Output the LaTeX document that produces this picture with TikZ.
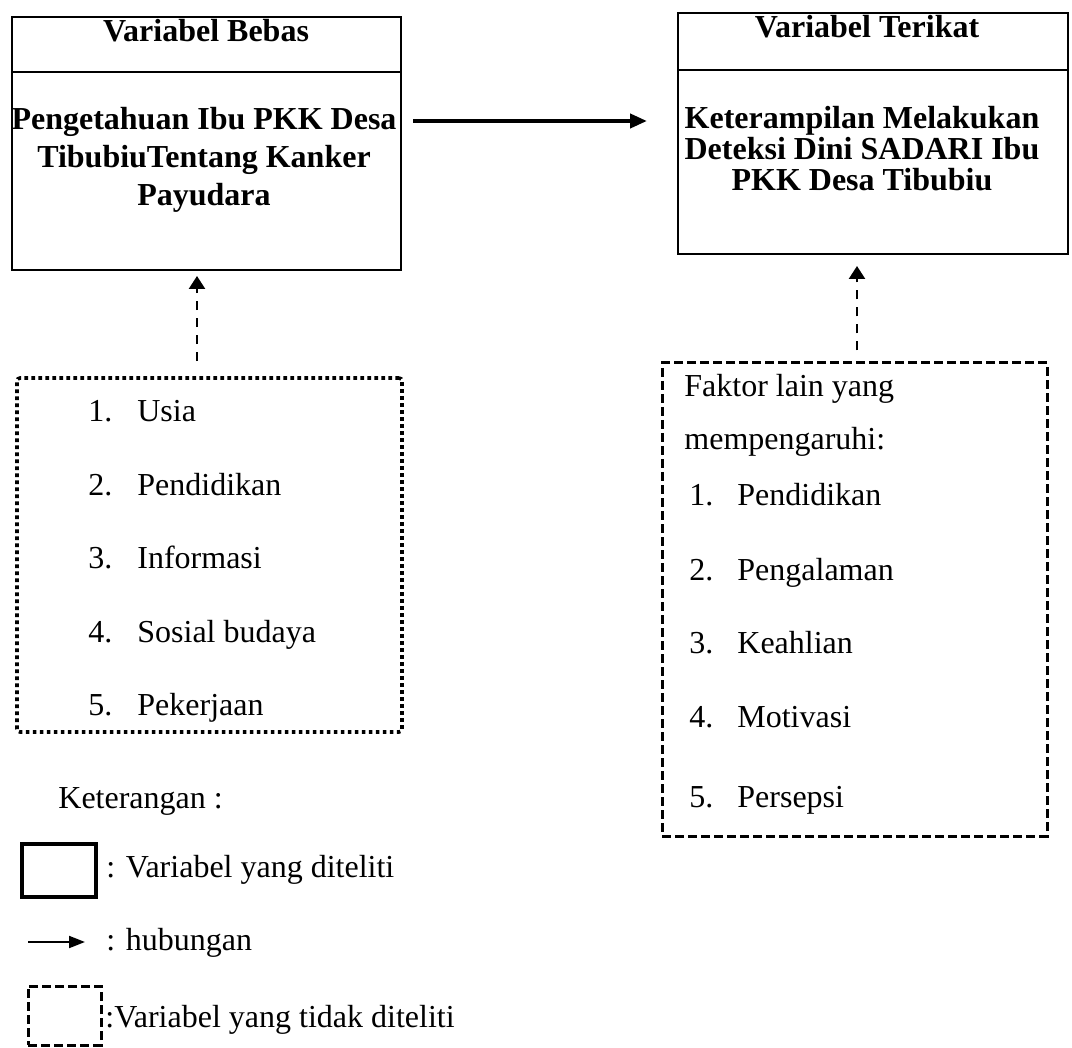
\documentclass[tikz,border=0pt]{standalone}
\usepackage{fontspec}
\setmainfont{Liberation Serif}
\usetikzlibrary{positioning,arrows.meta}

\begin{document}
\begin{tikzpicture}[x=0.5pt,y=-0.5pt,
    varbox/.style={draw, line width=1pt, inner sep=0pt},
    judul/.style={font=\fontsize{16}{18}\selectfont\bfseries, anchor=base, inner sep=0pt},
    isi/.style={font=\fontsize{16}{19}\selectfont\bfseries, align=center, anchor=north, inner sep=0pt},
    teks/.style={font=\fontsize{16}{19}\selectfont, anchor=base west, inner sep=0pt},
    titikbox/.style={draw, line width=1.8pt, dash pattern=on 1.8pt off 1.7pt, rounded corners=1.5pt, inner sep=0pt},
    putusbox/.style={draw, line width=1.5pt, dash pattern=on 4.5pt off 2pt, inner sep=0pt},
    hub/.style={-{Triangle[length=8.5pt,width=7pt]}, line width=2pt},
    putusarr/.style={-{Triangle[length=6.5pt,width=8pt]}, line width=1.3pt, dash pattern=on 4.5pt off 4pt}
]
\useasboundingbox (0,0) rectangle (1072,1048);

\node[varbox, minimum width=194.5pt, minimum height=126.5pt] (bebas) at (206.5,143.5) {};
\draw[line width=1pt] (bebas.north west) ++(0,56) -- ++(389,0);
\node[judul] (bebasjudul) at (206,42) {Variabel Bebas};
\node[isi] (bebasisi) at (204,107) {Pengetahuan Ibu PKK Desa\\TibubiuTentang Kanker\\Payudara};

\node[varbox, minimum width=195pt, minimum height=120.5pt] (terikat) at (873,133.5) {};
\draw[line width=1pt] (terikat.north west) ++(0,58) -- ++(390,0);
\node[judul] (terikatjudul) at (867,38) {Variabel Terikat};
\node[isi, font=\fontsize{16}{15.5}\selectfont\bfseries] (terikatisi) at (862,106) {Keterampilan Melakukan\\Deteksi Dini SADARI Ibu\\PKK Desa Tibubiu};

\draw[hub, shorten <=5.5pt, shorten >=15pt] ([yshift=11.25pt]bebas.east) -- ([yshift=6.25pt]terikat.west);

\node[titikbox, minimum width=192.5pt, minimum height=177pt] (kiri) at (209.5,555) {};
\foreach \n/\t/\y in {1/Usia/422, 2/Pendidikan/495, 3/Informasi/568, 4/Sosial budaya/642, 5/Pekerjaan/715}
    \node[teks] (kiri\n) at (88,\y) {\makebox[24.5pt][l]{\n.}\t};

\node[putusbox, minimum width=192.5pt, minimum height=236.5pt] (kanan) at (854.5,599.5) {};
\node[teks] (faktor1) at (684,397) {Faktor lain yang};
\node[teks] (faktor2) at (684,450) {mempengaruhi:};
\foreach \n/\t/\y in {1/Pendidikan/505, 2/Pengalaman/580, 3/Keahlian/653, 4/Motivasi/727, 5/Persepsi/807}
    \node[teks] (kanan\n) at (689,\y) {\makebox[24pt][l]{\n.}\t};

\coordinate (ka) at ([xshift=-6.25pt]kiri.north);
\draw[putusarr, shorten <=7.5pt, shorten >=2.5pt] (ka) -- (ka |- bebas.south);
\coordinate (kb) at ([xshift=1.25pt]kanan.north);
\draw[putusarr, shorten <=5.5pt, shorten >=5.5pt] (kb) -- (kb |- terikat.south);

\node[teks] (ket) at (58,808) {Keterangan :};
\node[draw, line width=2pt, minimum width=37pt, minimum height=26.5pt] (lgkotak) at (59,870.5) {};
\node[teks] (lgkotakteks) at (106,877) {: Variabel yang diteliti};
\coordinate (lgA) at (28,942);
\coordinate (lgB) at (85,942);
\draw[-{Triangle[length=8pt,width=6pt]}, line width=1pt] (lgA) -- (lgB);
\node[teks] (lghubteks) at (106,950) {: hubungan};
\node[putusbox, minimum width=36.5pt, minimum height=29.5pt] (lgputus) at (64.5,1015.5) {};
\node[teks] (lgputusteks) at (105,1027) {:Variabel yang tidak diteliti};
\end{tikzpicture}
\end{document}
